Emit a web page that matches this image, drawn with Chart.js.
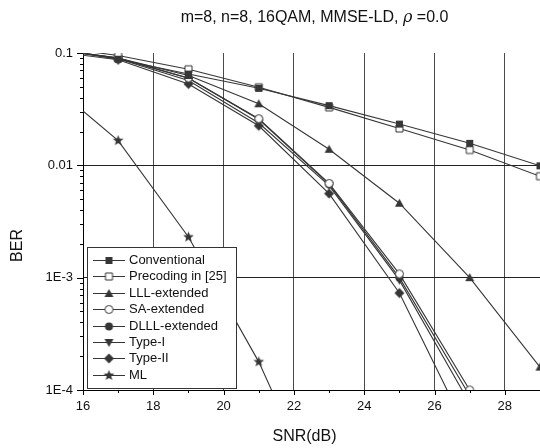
<!DOCTYPE html>
<html>
<head>
<meta charset="utf-8">
<script src="https://cdn.jsdelivr.net/npm/chart.js@4"></script>
<style>
  html, body { margin: 0; padding: 0; background: #fff; }
  canvas { display: block; }
</style>
</head>
<body>
<canvas id="myChart" width="540" height="448"></canvas>
<script>
let snr = [15, 17, 19, 21, 23, 25, 27, 29];
let conventional = [0.11, 0.088, 0.065, 0.0485, 0.034, 0.0233, 0.0157, 0.0099];
let precoding = [0.115, 0.095, 0.0716, 0.0495, 0.0328, 0.0213, 0.0137, 0.0080];
let lllExt = [0.11, 0.09, 0.063, 0.0353, 0.0139, 0.0046, 0.0010, 0.00016];
let saExt = [0.11, 0.09, 0.060, 0.026, 0.0069, 0.00108, 0.0001, null];
let dlllExt = [0.11, 0.09, 0.0596, 0.0257, 0.0068, 0.0010, 0.000089, null];
let type1 = [0.11, 0.089, 0.057, 0.0238, 0.0066, 0.00095, 0.000076, null];
let type2 = [0.105, 0.087, 0.053, 0.0225, 0.0056, 0.00073, 0.000039, null];
let ml = [0.056, 0.0166, 0.0023, 0.000178, 0.0000074, null, null, null];

let labels = ['Conventional', 'Precoding in [25]', 'LLL-extended', 'SA-extended',
  'DLLL-extended', 'Type-I', 'Type-II', 'ML'];
let xTicks = [16, 18, 20, 22, 24, 26, 28];
let yTicks = [1e-4, 1e-3, 1e-2, 1e-1];
let yTickLabels = ['1E-4', '1E-3', '0.01', '0.1'];

let ink = '#363636';
let fontFamily = '"Liberation Sans", Arial, sans-serif';

// marker images, also reused by the legend
function marker(shape) {
  let c = document.createElement('canvas');
  c.width = 13; c.height = 13;
  let g = c.getContext('2d');
  g.translate(6.5, 6.5);
  g.fillStyle = ink; g.strokeStyle = ink; g.lineWidth = 1;
  g.beginPath();
  if (shape === 'square' || shape === 'squareOpen') g.rect(-3.5, -3.5, 7, 7);
  else if (shape === 'triUp') { g.moveTo(0, -4.5); g.lineTo(4.5, 3.5); g.lineTo(-4.5, 3.5); g.closePath(); }
  else if (shape === 'triDown') { g.moveTo(0, 4.5); g.lineTo(4.5, -3.5); g.lineTo(-4.5, -3.5); g.closePath(); }
  else if (shape === 'circle' || shape === 'circleOpen') g.arc(0, 0, 4, 0, Math.PI * 2);
  else if (shape === 'diamond') { g.moveTo(0, -5); g.lineTo(5, 0); g.lineTo(0, 5); g.lineTo(-5, 0); g.closePath(); }
  else if (shape === 'star') {
    for (let i = 0; i < 10; i++) {
      let r = i % 2 ? 2.4 : 5.6;
      let ang = -Math.PI / 2 + i * Math.PI / 5;
      g.lineTo(r * Math.cos(ang), r * Math.sin(ang));
    }
    g.closePath();
  }
  if (shape.endsWith('Open')) { g.fillStyle = '#fff'; g.fill(); g.stroke(); }
  else g.fill();
  return c;
}

function series(label, values, shape) {
  return {
    label: label,
    data: snr.map((x, i) => ({ x: x, y: values[i] })),
    borderColor: ink,
    borderWidth: 1.1,
    pointStyle: marker(shape),
    pointRadius: 5,
    fill: false,
    tension: 0
  };
}

let decorations = {
  id: 'decorations',
  afterDraw(chart) {
    let ctx = chart.ctx, a = chart.chartArea, x = chart.scales.x, y = chart.scales.y;
    ctx.save();
    // axis ticks, outward, minor ones shorter
    ctx.strokeStyle = '#000'; ctx.lineWidth = 1;
    ctx.beginPath();
    for (let v = 16; v <= 28; v++) {
      let px = Math.round(x.getPixelForValue(v)) + 0.5;
      ctx.moveTo(px, a.bottom); ctx.lineTo(px, a.bottom + (v % 2 ? 3 : 5));
    }
    for (let e = -4; e <= -1; e++) {
      for (let m = 1; m <= 9; m++) {
        if (e === -1 && m > 1) break;
        let py = Math.round(y.getPixelForValue(m * Math.pow(10, e))) + 0.5;
        ctx.moveTo(a.left - (m === 1 ? 6 : 3), py); ctx.lineTo(a.left, py);
      }
    }
    ctx.stroke();

    // title
    ctx.fillStyle = '#111';
    ctx.textBaseline = 'alphabetic';
    let cx = (a.left + a.right) / 2;
    let t1 = 'm=8, n=8, 16QAM, MMSE-LD, ', t2 = '\u03C1', t3 = ' =0.0';
    ctx.font = '16px ' + fontFamily;
    let w1 = ctx.measureText(t1).width, w3 = ctx.measureText(t3).width;
    ctx.font = 'italic 16px "DejaVu Serif", serif';
    let w2 = ctx.measureText(t2).width;
    let sx = cx - (w1 + w2 + w3) / 2 + 3;
    ctx.font = '16px ' + fontFamily;
    ctx.fillText(t1, sx, 22);
    ctx.font = 'italic 16px "DejaVu Serif", serif';
    ctx.fillText(t2, sx + w1, 22);
    ctx.font = '16px ' + fontFamily;
    ctx.fillText(t3, sx + w1 + w2, 22);

    // axis titles
    ctx.textAlign = 'center'; ctx.textBaseline = 'middle';
    ctx.fillText('SNR(dB)', cx - 7, a.bottom + 47);
    ctx.save();
    ctx.translate(18, (a.top + a.bottom) / 2 + 24);
    ctx.rotate(-Math.PI / 2);
    ctx.fillText('BER', 0, 0);
    ctx.restore();

    // legend box inside the plot
    let lx = a.left + 4, ly = a.bottom - 143, lw = 149, lh = 141;
    ctx.fillStyle = '#fff';
    ctx.fillRect(lx, ly, lw, lh);
    ctx.strokeStyle = '#333';
    ctx.strokeRect(lx + 0.5, ly + 0.5, lw, lh);
    ctx.textAlign = 'left';
    ctx.font = '13px ' + fontFamily;
    chart.data.datasets.forEach((ds, i) => {
      let cy = Math.round(ly + 13 + i * 16.4) + 0.5;
      ctx.strokeStyle = ink;
      ctx.beginPath(); ctx.moveTo(lx + 6, cy); ctx.lineTo(lx + 38, cy); ctx.stroke();
      let img = ds.pointStyle;
      ctx.drawImage(img, lx + 22 - img.width / 2, cy - img.height / 2);
      ctx.fillStyle = '#111';
      ctx.fillText(ds.label, lx + 42, cy);
    });
    ctx.restore();
  }
};

let ctx = document.getElementById('myChart').getContext('2d');
let myChart = new Chart(ctx, {
  type: 'line',
  data: {
    datasets: [
      series(labels[0], conventional, 'square'),
      series(labels[1], precoding, 'squareOpen'),
      series(labels[2], lllExt, 'triUp'),
      series(labels[3], saExt, 'circleOpen'),
      series(labels[4], dlllExt, 'circle'),
      series(labels[5], type1, 'triDown'),
      series(labels[6], type2, 'diamond'),
      series(labels[7], ml, 'star')
    ]
  },
  options: {
    responsive: false,
    animation: false,
    events: [],
    layout: { autoPadding: false, padding: { top: 53, right: 0, bottom: 0, left: 0 } },
    plugins: {
      legend: { display: false },
      title: { display: false },
      tooltip: { enabled: false }
    },
    scales: {
      x: {
        type: 'linear',
        min: 16,
        max: 29,
        afterBuildTicks: (scale) => { scale.ticks = xTicks.map(v => ({ value: v })); },
        afterFit: (scale) => { scale.height = 58; scale.paddingRight = 0; scale.paddingLeft = 0; },
        border: { display: true, color: '#000', width: 1 },
        grid: {
          drawTicks: false,
          color: (c) => (c.tick && c.tick.value > 16 ? '#4a4a4a' : 'transparent')
        },
        ticks: {
          autoSkip: false,
          maxRotation: 0,
          padding: 9,
          color: '#111',
          font: { size: 13, family: fontFamily }
        }
      },
      y: {
        type: 'logarithmic',
        min: 1e-4,
        max: 0.1,
        afterBuildTicks: (scale) => { scale.ticks = yTicks.map(v => ({ value: v })); },
        afterFit: (scale) => { scale.width = 83; },
        border: { display: true, color: '#000', width: 1 },
        grid: {
          drawTicks: false,
          color: (c) => (c.tick && (c.tick.value === 1e-2 || c.tick.value === 1e-3) ? '#222' : 'transparent')
        },
        ticks: {
          autoSkip: false,
          padding: 10,
          color: '#111',
          font: { size: 13, family: fontFamily },
          callback: (value) => yTickLabels[yTicks.indexOf(value)]
        }
      }
    }
  },
  plugins: [decorations]
});
</script>
</body>
</html>
